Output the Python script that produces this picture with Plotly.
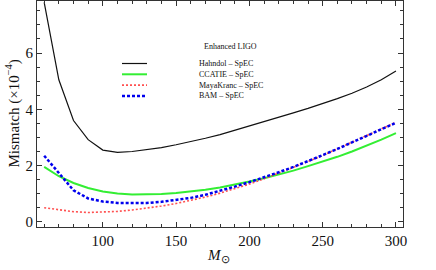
import plotly.graph_objects as go

mass = [60, 70, 80, 90, 100, 110, 120, 130, 140, 150, 160, 170, 180,
        190, 200, 210, 220, 230, 240, 250, 260, 270, 280, 290, 300]
hahndol = [7.8, 5.05, 3.6, 2.92, 2.55, 2.47, 2.5, 2.56, 2.64, 2.74, 2.85, 2.97, 3.1,
           3.25, 3.4, 3.55, 3.71, 3.87, 4.03, 4.2, 4.38, 4.57, 4.79, 5.05, 5.36]
ccatie = [1.95, 1.62, 1.38, 1.2, 1.08, 1.01, 0.97, 0.97, 0.99, 1.02, 1.07, 1.14, 1.22,
          1.32, 1.43, 1.55, 1.68, 1.82, 1.98, 2.14, 2.31, 2.5, 2.7, 2.92, 3.15]
mayakranc = [0.5, 0.42, 0.36, 0.33, 0.34, 0.37, 0.42, 0.48, 0.56, 0.65, 0.76, 0.88, 1.02,
             1.17, 1.34, 1.53, 1.73, 1.93, 2.14, 2.36, 2.59, 2.82, 3.06, 3.3, 3.54]
bam = [2.35, 1.72, 1.12, 0.83, 0.72, 0.67, 0.66, 0.67, 0.71, 0.77, 0.85, 0.96, 1.1,
       1.25, 1.41, 1.58, 1.76, 1.95, 2.15, 2.37, 2.59, 2.82, 3.06, 3.29, 3.52]

names = ["Hahndol \u2013 SpEC", "CCATIE \u2013 SpEC", "MayaKranc \u2013 SpEC", "BAM \u2013 SpEC"]
series = [hahndol, ccatie, mayakranc, bam]
styles = [dict(color="#111111", width=1.2, dash="solid"),
          dict(color="#33ee33", width=2.0, dash="solid"),
          dict(color="#ff5050", width=1.6, dash="2px,2px"),
          dict(color="#0000ee", width=2.5, dash="3px,2px")]

W, H = 436, 270
ML, MR, MT, MB = 37, 33, 1, 43
PW, PH = W - ML - MR, H - MT - MB


def px(x):
    return (x - ML) / PW


def py(y):
    return (H - MB - y) / PH


SERIF = "Liberation Serif, Times New Roman, serif"

fig = go.Figure()
for n, s, st in zip(names, series, styles):
    fig.add_trace(go.Scatter(x=mass, y=s, mode="lines", name=n, line=st,
                             showlegend=False))

# manual legend
rows = [63.5, 74.3, 85.1, 95.9]
shapes = []
annotations = []
for n, st, ry in zip(names, styles, rows):
    shapes.append(dict(type="line", xref="paper", yref="paper",
                       x0=px(122), x1=px(147), y0=py(ry), y1=py(ry), line=st))
    annotations.append(dict(text=n, xref="paper", yref="paper", x=px(197), y=py(ry),
                            xanchor="left", yanchor="middle", showarrow=False,
                            font=dict(family=SERIF, size=8, color="#111")))
annotations.append(dict(text="Enhanced LIGO", xref="paper", yref="paper",
                        x=px(230), y=py(47), xanchor="center", yanchor="middle",
                        showarrow=False, font=dict(family=SERIF, size=8, color="#111")))
annotations.append(dict(text="Mismatch (\u00d710<sup>\u22124</sup>)", xref="paper", yref="paper",
                        x=px(12.5), y=py(114), xanchor="center", yanchor="middle",
                        textangle=-90, showarrow=False,
                        font=dict(family=SERIF, size=15, color="#111")))
annotations.append(dict(text="<i>M</i><sub>\u2299</sub>", xref="paper", yref="paper",
                        x=px(218), y=py(256), xanchor="center", yanchor="middle",
                        showarrow=False, font=dict(family=SERIF, size=15, color="#111")))

axis_common = dict(showgrid=False, zeroline=False, showline=True, linecolor="#333",
                   linewidth=1, mirror="allticks", ticks="inside", ticklen=5,
                   tickwidth=1, tickcolor="#333",
                   tickfont=dict(family=SERIF, size=15, color="#111"))

fig.update_layout(
    width=W, height=H, margin=dict(l=ML, r=MR, t=MT, b=MB),
    paper_bgcolor="white", plot_bgcolor="white",
    xaxis=dict(range=[55.1, 304.8], tickvals=[100, 150, 200, 250, 300],
               minor=dict(dtick=10, tick0=0, ticks="inside", ticklen=3, tickcolor="#333"),
               **axis_common),
    yaxis=dict(range=[-0.185, 7.85], tickvals=[0, 2, 4, 6],
               minor=dict(dtick=0.5, tick0=0, ticks="inside", ticklen=3, tickcolor="#333"),
               **axis_common),
    shapes=shapes, annotations=annotations,
)

fig.write_html("out.html", config={"displayModeBar": False},
               post_script="document.body.style.margin='0';document.body.style.overflow='hidden';")
